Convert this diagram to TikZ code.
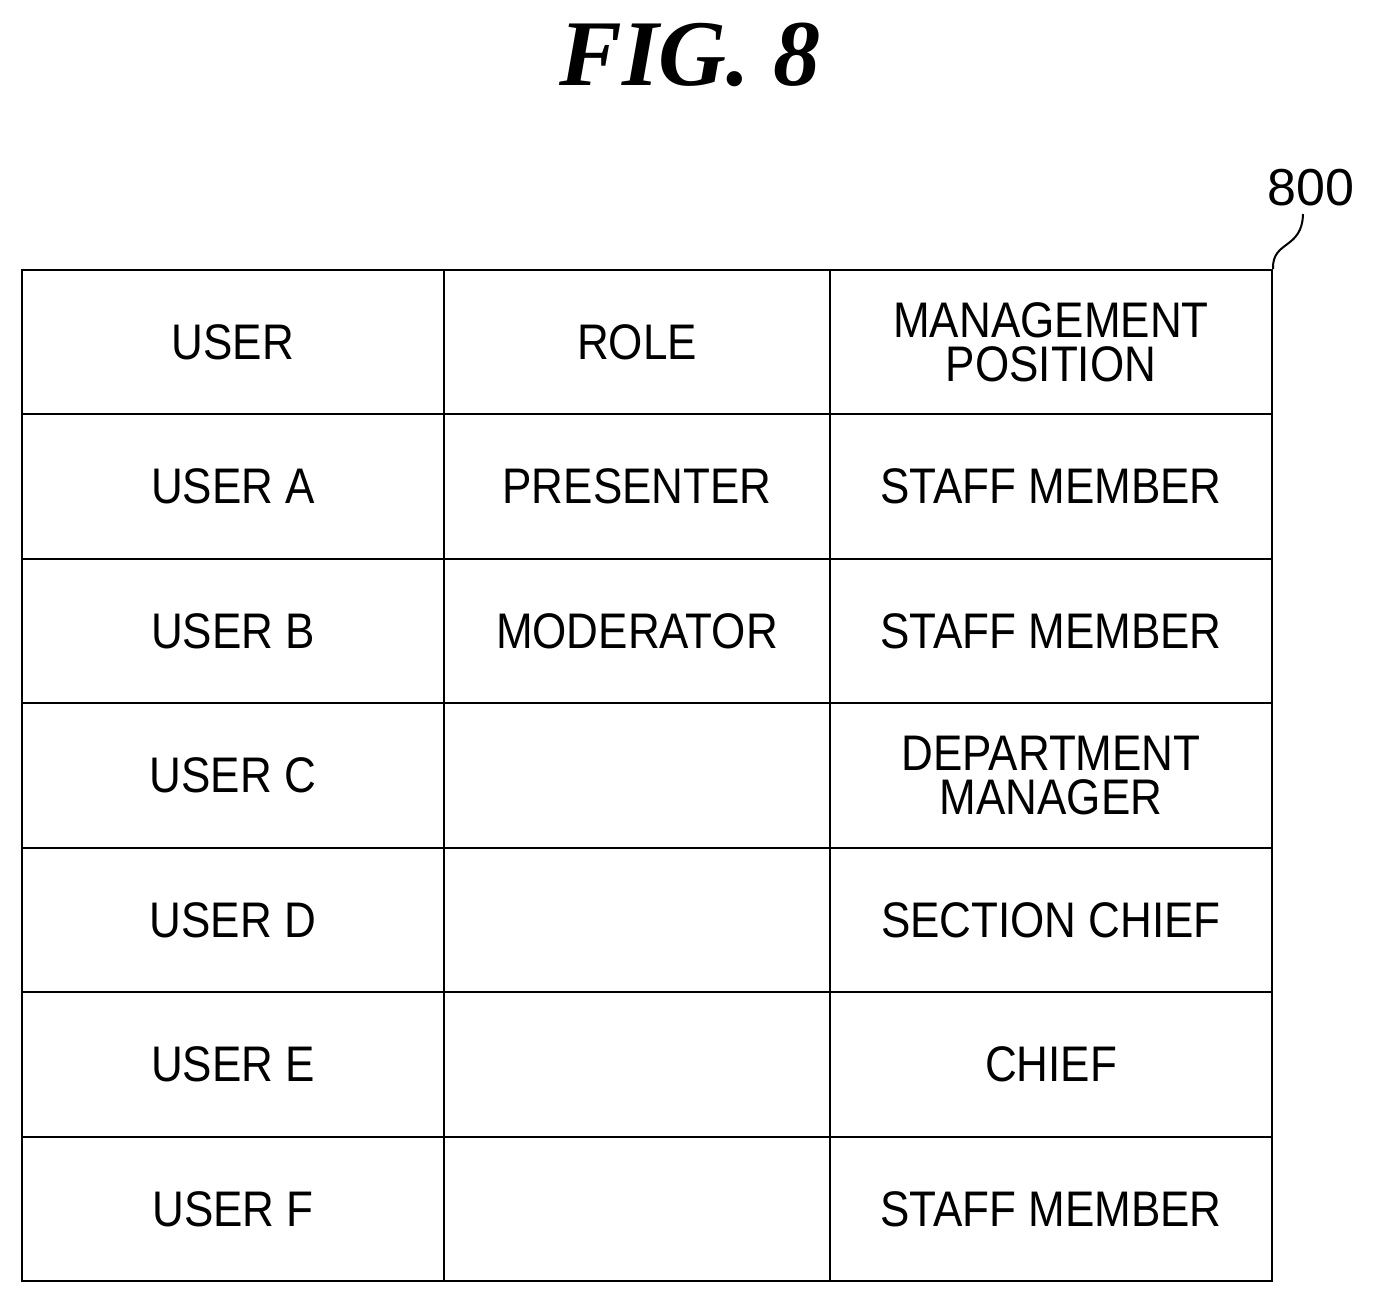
\documentclass[tikz,border=0pt]{standalone}
\usepackage{fontspec}
\setmainfont{Liberation Sans}
\newfontfamily\titlefont{Liberation Serif}
\tikzset{
  cell/.style={draw, line width=1pt, minimum height=72.2pt, inner sep=0pt},
  celltext/.style={font=\fontsize{25}{22}\selectfont, xscale=0.88, transform shape, align=center}
}
\begin{document}
\begin{tikzpicture}[x=0.5pt, y=-0.5pt]
    \useasboundingbox (0,0) rectangle (1375,1304);

    % title
    \node[font=\titlefont\bfseries\itshape\fontsize{47}{47}\selectfont] (title) at (690,55) {FIG. 8};

    % table cells
    \foreach \r/\a/\b/\c in {0/USER/ROLE/{MANAGEMENT\\POSITION},
                             1/USER A/PRESENTER/STAFF MEMBER,
                             2/USER B/MODERATOR/STAFF MEMBER,
                             3/USER C//{DEPARTMENT\\MANAGER},
                             4/USER D//SECTION CHIEF,
                             5/USER E//CHIEF,
                             6/USER F//STAFF MEMBER} {
      \node[cell, minimum width=211pt] (u\r) at (233,{342.2+144.43*\r}) {};
      \node[cell, minimum width=193pt] (g\r) at (637,{342.2+144.43*\r}) {};
      \node[cell, minimum width=221pt] (p\r) at (1051,{342.2+144.43*\r}) {};
      \node[celltext] at (u\r) {\a};
      \node[celltext] at (g\r) {\b};
      \node[celltext] at (p\r) {\c};
    }

    % reference label
    \node[font=\fontsize{26}{26}\selectfont] (lbl) at (1311,188) {800};
    \draw[line width=1pt] (p0.north east) .. controls (1272,240) and (1302,250) .. (1303,214);
\end{tikzpicture}
\end{document}
